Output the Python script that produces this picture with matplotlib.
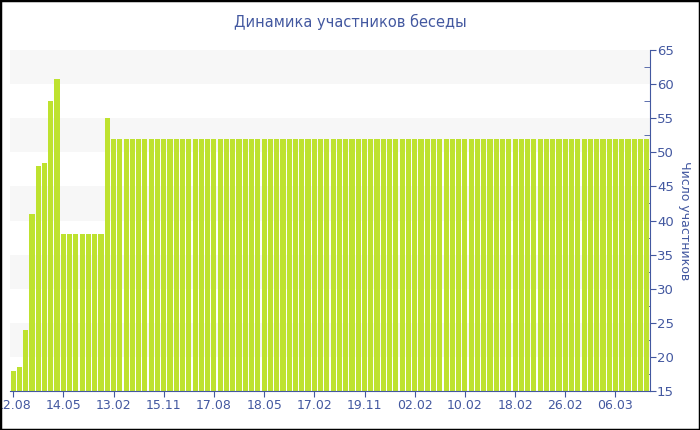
import numpy as np
import matplotlib
matplotlib.use('Agg')
import matplotlib.pyplot as plt
from matplotlib.patches import Rectangle

# chat member counts, one bar per day
head_values = [18, 18.5, 24, 41, 48, 48.5, 57.5, 60.7,
               38, 38, 38, 38, 38, 38, 38, 55]
tail_values = [52] * 86
values = head_values + tail_values
tick_labels = ['12.08', '14.05', '13.02', '15.11', '17.08', '18.05', '17.02',
               '19.11', '02.02', '10.02', '18.02', '26.02', '06.03']
tick_step = 8

blue = '#4358a0'
bar_color = '#bee22f'

fig = plt.figure(figsize=(7, 4.3), dpi=100)
ax = fig.add_axes([10 / 700, 39 / 430, 640 / 700, 341 / 430])

x = np.arange(len(values))
for lo in range(20, 65, 10):
    ax.axhspan(lo, lo + 5, color='#f7f7f7', zorder=0, lw=0)
ax.bar(x, values, width=0.82, color=bar_color, zorder=2)

ax.set_xlim(-0.5, len(values) - 0.5)
ax.set_ylim(15, 65)

ax.yaxis.tick_right()
ax.yaxis.set_label_position('right')
ax.set_yticks(np.arange(15, 66, 5))
ax.set_yticks(np.arange(17.5, 65, 5), minor=True)
ax.tick_params(axis='y', which='major', direction='out', length=4, color=blue,
               labelcolor=blue, labelsize=9.5, pad=1)
ax.tick_params(axis='y', which='minor', direction='in', length=4, color=blue)

ax.set_xticks(x[::tick_step][:len(tick_labels)])
ax.set_xticklabels(tick_labels)
ax.tick_params(axis='x', direction='out', length=4, color=blue,
               labelcolor=blue, labelsize=9, pad=2)

for side in ['top', 'left']:
    ax.spines[side].set_visible(False)
for side in ['bottom', 'right']:
    ax.spines[side].set_color(blue)

ax.set_ylabel('Число участников', rotation=270, color=blue, fontsize=9,
              va='center', ha='center')
ax.yaxis.set_label_coords(675 / 640, 0.5)
fig.text(350 / 700, 1 - 22 / 430, 'Динамика участников беседы', ha='center', va='center',
         color=blue, fontsize=10.5)

fig.patches.append(Rectangle((0, 0), 1, 1, transform=fig.transFigure, fill=False,
                             edgecolor='black', lw=2.5, zorder=10))

fig.savefig('out.png', dpi=100)
